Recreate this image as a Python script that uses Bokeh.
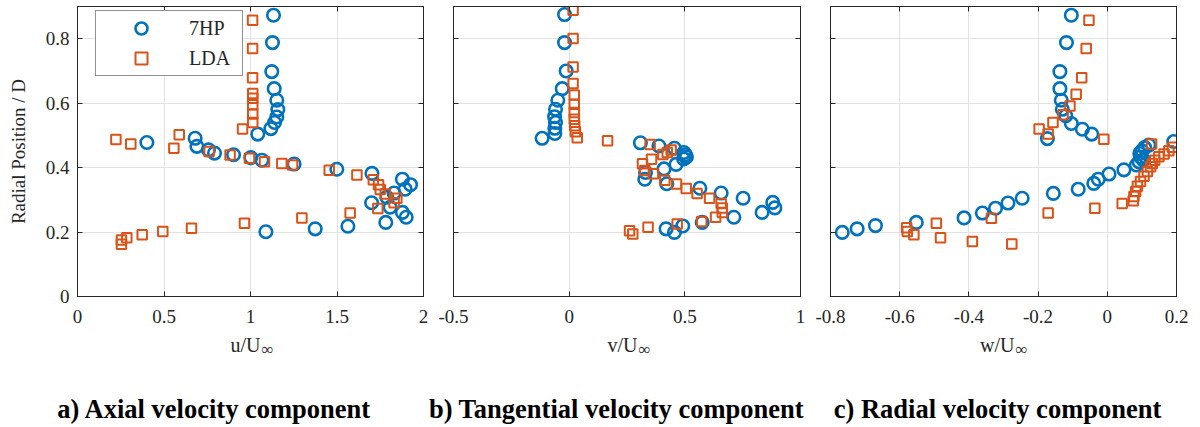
from bokeh.plotting import figure
from bokeh.layouts import row, column
from bokeh.models import Range1d, FixedTicker, LinearAxis, Legend, LegendItem
from bokeh.core.properties import value
from bokeh.embed import file_html
from bokeh.resources import INLINE

BLUE = "#0072BD"
ORANGE = "#D95319"
INK = "#262626"
GRID = "#e2e2e2"
FONT = "Liberation Serif"

# ---- radial position ticks (shared by all panels) ----
r_ticks = [0, 0.2, 0.4, 0.6, 0.8]
r_tick_labels = ["0", "0.2", "0.4", "0.6", "0.8"]

# ---- a) axial velocity ----
u_ticks = [0, 0.5, 1, 1.5, 2]
u_tick_labels = ["0", "0.5", "1", "1.5", "2"]
u_7hp = [1.133, 1.127, 1.123, 1.137, 1.152, 1.158, 1.152, 1.139, 1.118, 1.042,
         0.401, 0.680, 0.690, 0.757, 0.792, 0.902, 1.002, 1.066, 1.252, 1.499,
         1.702, 1.878, 1.925, 1.894, 1.830, 1.788, 1.700, 1.807, 1.878, 1.900,
         1.782, 1.563, 1.374, 1.089]
r_u_7hp = [0.873, 0.788, 0.698, 0.645, 0.609, 0.580, 0.557, 0.540, 0.521, 0.504,
           0.478, 0.491, 0.466, 0.455, 0.445, 0.440, 0.431, 0.423, 0.411, 0.395,
           0.382, 0.364, 0.347, 0.333, 0.321, 0.308, 0.291, 0.277, 0.261, 0.246,
           0.230, 0.218, 0.210, 0.201]
u_lda = [1.012, 1.012, 1.012, 1.013, 1.013, 1.013, 1.013, 1.013, 0.954, 0.222,
         0.308, 0.588, 0.557, 0.761, 0.882, 0.994, 1.081, 1.181, 1.243, 1.455,
         1.615, 1.710, 1.740, 1.750, 1.779, 1.846, 1.830, 1.736, 1.576, 1.297,
         0.965, 0.659, 0.493, 0.374, 0.285, 0.254, 0.254]
r_u_lda = [0.857, 0.770, 0.679, 0.630, 0.615, 0.595, 0.566, 0.540, 0.520, 0.487,
           0.473, 0.502, 0.460, 0.450, 0.439, 0.429, 0.418, 0.413, 0.408, 0.392,
           0.377, 0.362, 0.347, 0.332, 0.318, 0.305, 0.291, 0.273, 0.259, 0.244,
           0.227, 0.212, 0.202, 0.192, 0.182, 0.175, 0.162]

# ---- b) tangential velocity ----
v_ticks = [-0.5, 0, 0.5, 1]
v_tick_labels = ["-0.5", "0", "0.5", "1"]
v_7hp = [-0.020, -0.020, -0.013, -0.030, -0.049, -0.059, -0.063, -0.059, -0.062, -0.062,
         -0.117, 0.308, 0.388, 0.455, 0.496, 0.503, 0.507, 0.495, 0.462, 0.410,
         0.330, 0.327, 0.422, 0.565, 0.657, 0.752, 0.880, 0.889, 0.834, 0.712,
         0.575, 0.491, 0.455, 0.419]
r_v_7hp = [0.875, 0.788, 0.700, 0.645, 0.609, 0.581, 0.558, 0.540, 0.522, 0.506,
           0.491, 0.477, 0.467, 0.460, 0.447, 0.440, 0.433, 0.427, 0.410, 0.396,
           0.385, 0.364, 0.350, 0.336, 0.321, 0.305, 0.292, 0.275, 0.261, 0.246,
           0.230, 0.219, 0.199, 0.210]
v_lda = [0.017, 0.017, 0.017, 0.017, 0.022, 0.022, 0.022, 0.022, 0.024, 0.027,
         0.035, 0.166, 0.350, 0.441, 0.424, 0.405, 0.356, 0.317, 0.327, 0.364,
         0.413, 0.464, 0.506, 0.553, 0.607, 0.657, 0.662, 0.662, 0.633, 0.573,
         0.467, 0.341, 0.261, 0.275]
r_v_lda = [0.888, 0.801, 0.712, 0.661, 0.625, 0.597, 0.571, 0.550, 0.530, 0.511,
           0.493, 0.483, 0.472, 0.455, 0.447, 0.441, 0.426, 0.412, 0.391, 0.381,
           0.361, 0.349, 0.335, 0.320, 0.305, 0.289, 0.275, 0.261, 0.246, 0.233,
           0.225, 0.215, 0.204, 0.194]

# ---- c) radial velocity ----
w_ticks = [-0.8, -0.6, -0.4, -0.2, 0, 0.2]
w_tick_labels = ["-0.8", "-0.6", "-0.4", "-0.2", "0", "0.2"]
w_7hp = [-0.104, -0.118, -0.137, -0.137, -0.133, -0.130, -0.120, -0.104, -0.072, -0.045,
         -0.173, 0.192, 0.120, 0.108, 0.100, 0.094, 0.096, 0.104, 0.092, 0.084,
         0.048, 0.005, -0.026, -0.039, -0.084, -0.156, -0.246, -0.287, -0.323, -0.361,
         -0.414, -0.552, -0.670, -0.723, -0.766]
r_w_7hp = [0.873, 0.788, 0.698, 0.645, 0.609, 0.581, 0.561, 0.537, 0.519, 0.504,
           0.490, 0.481, 0.470, 0.462, 0.452, 0.444, 0.433, 0.424, 0.418, 0.408,
           0.393, 0.380, 0.364, 0.351, 0.333, 0.320, 0.305, 0.290, 0.274, 0.259,
           0.244, 0.230, 0.220, 0.210, 0.199]
w_lda = [-0.053, -0.061, -0.074, -0.090, -0.108, -0.128, -0.157, -0.171, -0.197, -0.010,
         0.128, 0.188, 0.178, 0.164, 0.149, 0.137, 0.130, 0.125, 0.116, 0.106,
         0.096, 0.087, 0.082, 0.077, 0.075, 0.043, -0.036, -0.171, -0.335, -0.494,
         -0.580, -0.578, -0.559, -0.482, -0.390, -0.276]
r_w_lda = [0.857, 0.770, 0.679, 0.628, 0.591, 0.564, 0.540, 0.504, 0.520, 0.488,
           0.473, 0.463, 0.452, 0.442, 0.434, 0.423, 0.413, 0.403, 0.388, 0.373,
           0.357, 0.342, 0.326, 0.310, 0.297, 0.289, 0.274, 0.259, 0.243, 0.227,
           0.213, 0.202, 0.192, 0.182, 0.171, 0.163]

# ---- texts under the panels ----
x_symbols = ["u", "v", "w"]
captions = ["a) Axial velocity component",
            "b) Tangential velocity component",
            "c) Radial velocity component"]

PLOT_H = 333
TOP, BOTTOM = 6, 37
STRIP_H = 427 - PLOT_H


def style_axis(ax, ticks, labels, show_labels=True):
    ax.ticker = FixedTicker(ticks=ticks)
    ax.major_tick_in = 5
    ax.major_tick_out = 0
    ax.minor_tick_line_color = None
    ax.axis_line_color = INK
    ax.major_tick_line_color = INK
    ax.major_label_text_font = FONT
    if show_labels:
        ax.major_label_overrides = dict(zip(ticks, labels))
        ax.major_label_text_color = INK
        ax.major_label_text_font_size = "19px"
    else:
        # tick marks only, no tick text
        ax.major_label_text_color = None
        ax.major_label_text_font_size = "1px"
        ax.major_label_standoff = 0


def make_panel(x_rng, xticks, xlabels, width, left, right, show_ylabels):
    p = figure(width=width, height=PLOT_H,
               x_range=Range1d(*x_rng), y_range=Range1d(0, 0.9),
               output_backend="svg", toolbar_location=None,
               min_border_left=left, min_border_right=right,
               min_border_top=TOP, min_border_bottom=BOTTOM)
    p.background_fill_color = "white"
    p.border_fill_color = "white"
    p.outline_line_color = INK
    p.outline_line_width = 1

    style_axis(p.xaxis[0], xticks, xlabels)
    p.xaxis.major_label_standoff = 13
    style_axis(p.yaxis[0], r_ticks, r_tick_labels, show_ylabels)
    if show_ylabels:
        p.yaxis.major_label_standoff = 8

    top = LinearAxis()
    style_axis(top, xticks, xlabels, False)
    p.add_layout(top, "above")
    rgt = LinearAxis()
    style_axis(rgt, r_ticks, r_tick_labels, False)
    p.add_layout(rgt, "right")

    p.grid.grid_line_color = GRID
    p.grid.grid_line_width = 1
    return p


def add_series(p, xs, ys, xs2, ys2):
    c = p.scatter(xs, ys, marker="circle", size=12.5, fill_color=None,
                  line_color=BLUE, line_width=2.6)
    s = p.scatter(xs2, ys2, marker="square", size=9.5, fill_color=None,
                  line_color=ORANGE, line_width=2)
    return c, s


# panel a
pa = make_panel((0, 2), u_ticks, u_tick_labels, 428, 77, 5, True)
ca, sa = add_series(pa, u_7hp, r_u_7hp, u_lda, r_u_lda)
pa.yaxis[0].axis_label = "Radial Position / D"
pa.yaxis[0].axis_label_text_font = FONT
pa.yaxis[0].axis_label_text_font_size = "19px"
pa.yaxis[0].axis_label_text_font_style = "normal"
pa.yaxis[0].axis_label_text_color = INK
pa.yaxis[0].axis_label_standoff = 14

legend = Legend(items=[LegendItem(label="7HP", renderers=[ca]),
                       LegendItem(label="LDA", renderers=[sa])],
                location=(18, 220), margin=0, padding=2, spacing=-4,
                glyph_width=86, glyph_height=30, label_standoff=5,
                label_width=51,
                label_text_font=FONT, label_text_font_size="20px",
                label_text_color=INK, border_line_color=INK, border_line_width=1,
                background_fill_color="white", background_fill_alpha=1)
pa.add_layout(legend)

# panel b
pb = make_panel((-0.5, 1), v_ticks, v_tick_labels, 384, 25, 12, False)
add_series(pb, v_7hp, r_v_7hp, v_lda, r_v_lda)

# panel c
pc = make_panel((-0.8, 0.2), w_ticks, w_tick_labels, 388, 18, 24, False)
add_series(pc, w_7hp, r_w_7hp, w_lda, r_w_lda)

# strip under the panels: axis titles and panel captions (pixel coordinates)
strip = figure(width=1200, height=STRIP_H, x_range=Range1d(0, 1200),
               y_range=Range1d(STRIP_H, 0), output_backend="svg",
               toolbar_location=None, min_border=0,
               x_axis_location=None, y_axis_location=None)
strip.grid.visible = False
strip.outline_line_color = None
strip.background_fill_color = "white"
strip.border_fill_color = "white"

label_cx = [249, 626, 1003]
caption_cx = [214, 616, 997]
sub_x = [c + 11 for c in label_cx]
strip.text(x=sub_x, y=[11] * 3, text=[s + "/U" for s in x_symbols],
           text_align="right", text_baseline="middle",
           text_font=value(FONT), text_font_size="20px", text_color=INK)
strip.text(x=[x + 1 for x in sub_x], y=[16] * 3, text=["\u221e"] * 3,
           text_align="left", text_baseline="middle",
           text_font=value(FONT), text_font_size="17px", text_color=INK)
strip.text(x=caption_cx, y=[75] * 3, text=captions,
           text_align="center", text_baseline="middle",
           text_font=value(FONT), text_font_size="26.5px", text_font_style="bold",
           text_color="black")

layout = column(row(pa, pb, pc, spacing=0), strip, spacing=0)
open("out.html", "w").write(file_html(layout, INLINE))
